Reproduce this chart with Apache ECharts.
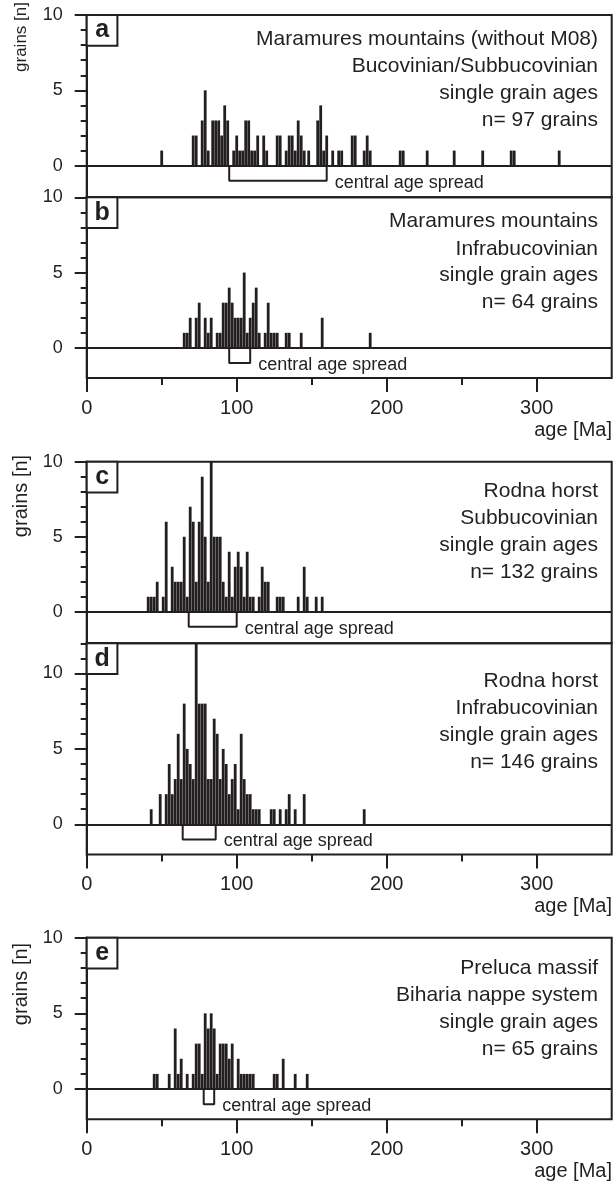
<!DOCTYPE html>
<html>
<head>
<meta charset="utf-8">
<script src="https://cdn.jsdelivr.net/npm/echarts@6/dist/echarts.min.js"></script>
<style>
html,body{margin:0;padding:0;background:#ffffff;}
#chart{width:615px;height:1184px;}
</style>
</head>
<body>
<div id="chart"></div>
<script>
// ---------------- DATA ----------------
// bin centres [Ma] and grain counts per 2 Ma bin
const agesA = [50,71,73,77,79,81,84,86,88,90,92,94,98,100,102,104,106,108,110,112,114,118,120,127,129,133,135,137,139,141,143,145,148,154,156,158,160,164,168,170,177,179,185,187,189,209,211,227,245,264,283,285,315];
const countsA = [1,2,2,3,5,1,3,3,3,2,4,3,1,2,1,1,3,3,1,1,2,2,1,2,2,1,2,2,1,3,2,1,1,3,4,1,2,1,1,1,2,2,1,2,1,1,1,1,1,1,1,1,1];
const spreadA = [95,160];
const textA = ['Maramures mountains (without M08)','Bucovinian/Subbucovinian','single grain ages','n= 97 grains'];

const agesB = [65,67,69,73,75,79,81,83,87,89,91,93,95,97,99,101,103,105,107,109,111,113,115,119,121,123,125,127,133,135,143,157,189];
const countsB = [1,1,2,2,3,2,1,2,1,1,3,3,4,3,2,2,2,5,1,2,3,4,1,1,3,1,1,1,1,1,1,2,1];
const spreadB = [95,109];
const textB = ['Maramures mountains','Infrabucovinian','single grain ages','n= 64 grains'];

const agesC = [41,43,45,47,51,53,57,59,61,63,65,67,69,71,73,75,77,79,81,83,85,87,89,91,93,95,97,99,101,103,105,107,109,111,115,117,119,121,127,129,131,141,145,147,153,157];
const countsC = [1,1,1,2,1,6,3,2,2,2,5,1,7,6,2,6,9,5,2,10,5,5,5,2,1,4,1,3,4,3,1,4,1,1,1,3,2,2,1,1,1,1,3,1,1,1];
const spreadC = [68,100];
const textC = ['Rodna horst','Subbucovinian','single grain ages','n= 132 grains'];

const agesD = [43,49,53,55,57,59,61,63,65,67,69,71,73,75,77,79,81,83,85,87,89,91,93,95,97,99,101,103,105,107,109,111,113,115,123,125,129,133,135,139,145,185];
const countsD = [1,2,2,4,2,3,6,3,8,5,4,3,12,8,8,8,3,3,7,6,3,5,4,2,3,4,1,6,3,2,2,1,1,1,1,1,1,1,2,1,2,1];
const spreadD = [64,86];
const textD = ['Rodna horst','Infrabucovinian','single grain ages','n= 146 grains'];

const agesE = [45,47,55,59,61,63,67,71,73,75,77,79,81,83,85,87,89,91,93,95,97,101,103,105,107,109,111,125,127,131,139,147];
const countsE = [1,1,1,4,1,2,1,1,3,3,1,5,4,5,4,1,3,3,3,2,3,2,1,1,1,1,1,1,1,2,1,1];
const spreadE = [78,85];
const textE = ['Preluca massif','Biharia nappe system','single grain ages','n= 65 grains'];

// axis ticks / labels
const xTicksMajor = [0,100,200,300];
const xTicksMinor = [50,150,250];
const yTicksMajor = [0,5,10];
const yTicksMinor10 = [0,1,2,3,4,5,6,7,8,9,10];
const yTicksMinor12 = [0,1,2,3,4,5,6,7,8,9,10,11,12];
const xAxisName = 'age [Ma]';
const yAxisName = 'grains [n]';
const spreadLabel = 'central age spread';

// ---------------- LAYOUT / STYLE ----------------
const INK = '#231f20';
const FONT = '"Liberation Sans", Arial, Helvetica, sans-serif';
const GL = 86.7, GW = 525;

const panels = [
  {key:'a', ages:agesA, counts:countsA, spread:spreadA, text:textA, top:15,    height:182.3, yMin:-2.1, yMax:10, xShown:false, minor:yTicksMinor10, textY:[39.3,66.5,93.3,120], grainsY:37, grainsFont:17},
  {key:'b', ages:agesB, counts:countsB, spread:spreadB, text:textB, top:197.3, height:180.7, yMin:-2,   yMax:10, xShown:true,  minor:yTicksMinor10, textY:[221.6,248.8,275.6,302.3], ageY:430},
  {key:'c', ages:agesC, counts:countsC, spread:spreadC, text:textC, top:461.7, height:181.6, yMin:-2.1, yMax:10, xShown:false, minor:yTicksMinor10, textY:[491,518,545,572], grainsY:496, grainsFont:20},
  {key:'d', ages:agesD, counts:countsD, spread:spreadD, text:textD, top:643.3, height:211.2, yMin:-2,   yMax:12, xShown:true,  minor:yTicksMinor12, textY:[681,708,735,762], ageY:906.5},
  {key:'e', ages:agesE, counts:countsE, spread:spreadE, text:textE, top:937.7, height:181.6, yMin:-2,   yMax:10, xShown:true,  minor:yTicksMinor10, textY:[968,995,1022,1049], grainsY:984, grainsFont:20, ageY:1171}
];

const grids = [], xAxes = [], yAxes = [], series = [], graphics = [];
const tickLine = {color:INK, width:2};

panels.forEach((p, i) => {
  grids.push({left:GL, width:GW, top:p.top, height:p.height, show:true,
              borderColor:INK, borderWidth:2, backgroundColor:'rgba(0,0,0,0)'});
  const xi = xAxes.length;
  xAxes.push({gridIndex:i, type:'value', position:'bottom', min:0, max:350,
    axisLine:{show:false, onZero:false},
    axisTick:{show:p.xShown, inside:false, customValues:xTicksMajor, length:14, lineStyle:tickLine},
    axisLabel:{show:p.xShown, customValues:xTicksMajor, margin:20, fontSize:20, color:INK, fontFamily:FONT},
    splitLine:{show:false}});
  xAxes.push({gridIndex:i, type:'value', position:'bottom', min:0, max:350,
    axisLine:{show:false, onZero:false},
    axisTick:{show:p.xShown, inside:false, customValues:xTicksMinor, length:7, lineStyle:tickLine},
    axisLabel:{show:false}, splitLine:{show:false}});
  const yi = yAxes.length;
  yAxes.push({gridIndex:i, type:'value', position:'left', min:p.yMin, max:p.yMax,
    axisLine:{show:true, onZero:false, lineStyle:tickLine},
    axisTick:{show:true, inside:false, customValues:yTicksMajor, length:12, lineStyle:tickLine},
    axisLabel:{show:true, customValues:yTicksMajor, margin:24, fontSize:18, color:INK, fontFamily:FONT},
    splitLine:{show:false}});
  yAxes.push({gridIndex:i, type:'value', position:'left', min:p.yMin, max:p.yMax,
    axisLine:{show:true, onZero:false, lineStyle:tickLine},
    axisTick:{show:true, inside:false, customValues:p.minor, length:6, lineStyle:tickLine},
    axisLabel:{show:false}, splitLine:{show:false}});

  series.push({type:'bar', xAxisIndex:xi, yAxisIndex:yi,
    data:p.ages.map((a, j) => [a, p.counts[j]]),
    barWidth:2.8, itemStyle:{color:INK}, silent:true,
    markLine:{silent:true, symbol:'none', label:{show:false},
              lineStyle:{color:INK, width:2, type:'solid'}, data:[{yAxis:0}]}});
  series.push({type:'line', xAxisIndex:xi, yAxisIndex:yi, silent:true,
    data:[[p.spread[0],0],[p.spread[0],-1],[p.spread[1],-1],[p.spread[1],0]],
    symbol:'none', lineStyle:{color:INK, width:2}});
  series.push({type:'scatter', xAxisIndex:xi, yAxisIndex:yi, silent:true,
    data:[[p.spread[1], -1.12]], symbolSize:0.1, itemStyle:{color:INK, opacity:1},
    label:{show:true, position:'right', distance:8, formatter:spreadLabel,
           fontSize:18, color:INK, opacity:1, fontFamily:FONT}});

  // panel letter box
  graphics.push({type:'rect', z:100, shape:{x:GL, y:p.top, width:30.7, height:30.7},
    style:{fill:'#ffffff', stroke:INK, lineWidth:2}});
  graphics.push({type:'text', z:101, style:{text:p.key, x:GL+15.4, y:p.top+15.6,
    textAlign:'center', textVerticalAlign:'middle', fill:INK,
    font:'bold 25px ' + FONT}});
  // description text
  p.text.forEach((t, k) => {
    graphics.push({type:'text', z:50, style:{text:t, x:598, y:p.textY[k],
      textAlign:'right', textVerticalAlign:'middle', fill:INK, font:'21px ' + FONT}});
  });
  if (p.grainsY) {
    graphics.push({type:'text', z:50, x:21, y:p.grainsY, rotation:Math.PI/2,
      style:{text:yAxisName, x:0, y:0, textAlign:'center', textVerticalAlign:'middle',
             fill:INK, font:p.grainsFont + 'px ' + FONT}});
  }
  if (p.ageY) {
    graphics.push({type:'text', z:50, style:{text:xAxisName, x:612, y:p.ageY,
      textAlign:'right', textVerticalAlign:'middle', fill:INK, font:'20px ' + FONT}});
  }
});

const chart = echarts.init(document.getElementById('chart'), null, {renderer:'canvas'});
chart.setOption({
  animation:false,
  backgroundColor:'#ffffff',
  grid:grids, xAxis:xAxes, yAxis:yAxes, series:series, graphic:graphics
});
</script>
</body>
</html>
